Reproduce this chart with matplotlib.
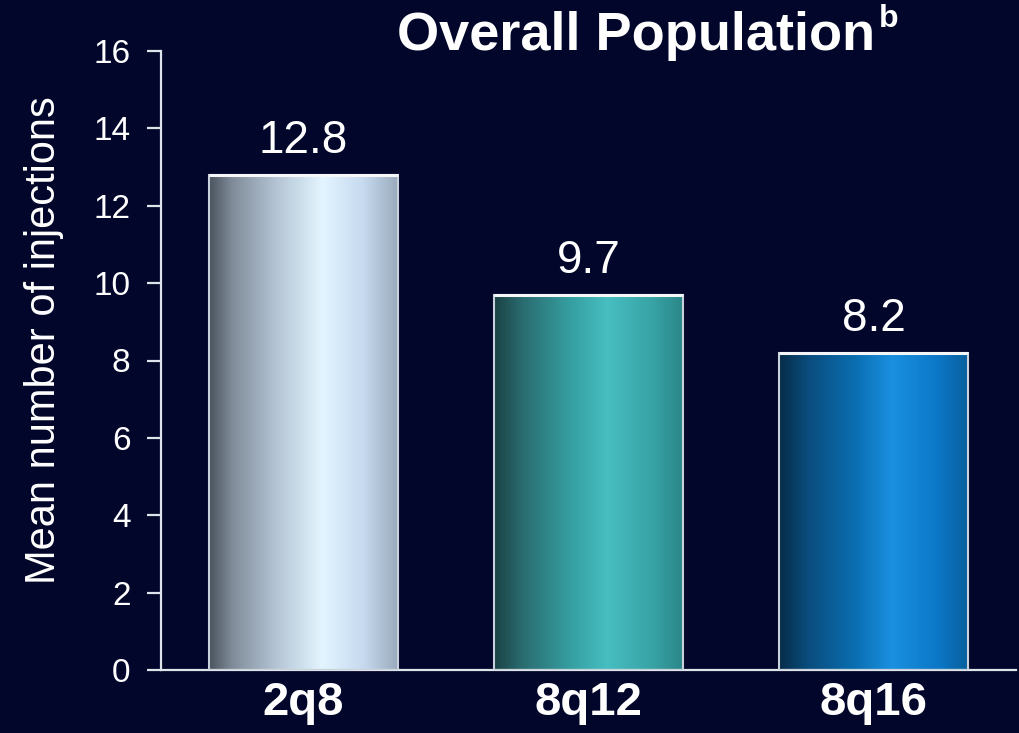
import numpy as np
import matplotlib
matplotlib.use("Agg")
import matplotlib.pyplot as plt
from matplotlib.colors import LinearSegmentedColormap

# Data
categories = ["2q8", "8q12", "8q16"]
mean_injections = [12.8, 9.7, 8.2]
value_labels = ["12.8", "9.7", "8.2"]
y_ticks = [0, 2, 4, 6, 8, 10, 12, 14, 16]

# Horizontal gradient stops for each bar (position, colour)
bar_gradients = [
    [(0.0, "#4a545f"), (0.12, "#7f8b98"), (0.35, "#b3c3d3"), (0.6, "#e3f5ff"),
     (0.82, "#c6d9ee"), (1.0, "#9aabbd")],
    [(0.0, "#1a4244"), (0.15, "#2a6c70"), (0.4, "#359ea0"), (0.6, "#47bec1"),
     (0.85, "#37a2a4"), (1.0, "#2a8688")],
    [(0.0, "#062c48"), (0.15, "#0a4c7c"), (0.4, "#0a6eb0"), (0.6, "#1a90e0"),
     (0.85, "#0c76c6"), (1.0, "#08609e")],
]

BG = "#01062a"
FG = "#ffffff"
LINE = "#dfe3ea"

plt.rcParams["font.family"] = ["Liberation Sans", "DejaVu Sans"]

fig = plt.figure(figsize=(10.2, 7.33), dpi=100, facecolor=BG)
ax = fig.add_axes([161 / 1020, 1 - 670 / 733, 855 / 1020, 619 / 733])
ax.set_facecolor(BG)

x = np.arange(len(categories))
bars = ax.bar(x, mean_injections, width=0.66, facecolor="none",
              edgecolor="#c9d2dc", linewidth=1.5, zorder=3)

grad = np.linspace(0, 1, 256).reshape(1, -1)
for bar, stops in zip(bars, bar_gradients):
    cmap = LinearSegmentedColormap.from_list("bar", stops)
    x0, y0 = bar.get_x(), bar.get_y()
    w, h = bar.get_width(), bar.get_height()
    im = ax.imshow(grad, cmap=cmap, aspect="auto", extent=(x0, x0 + w, y0, y0 + h),
                   zorder=2, interpolation="bilinear")
    im.set_clip_path(bar)
    # bright top edge
    ax.plot([x0, x0 + w], [y0 + h, y0 + h], color="#f4f6fa", lw=2.2, zorder=4,
            solid_capstyle="butt")

for bar, lab in zip(bars, value_labels):
    ax.annotate(lab, xy=(bar.get_x() + bar.get_width() / 2, bar.get_height()),
                xytext=(0, 16), textcoords="offset points", ha="center", va="baseline",
                fontsize=33, color=FG)

ax.set_xlim(-0.5, 2.5)
ax.set_ylim(0, 16)
ax.set_yticks(y_ticks)
ax.set_xticks(x)
ax.set_xticklabels(categories, fontsize=34, fontweight="bold", color=FG)
ax.tick_params(axis="x", length=0, pad=8)
ax.tick_params(axis="y", direction="out", length=10, width=1.6, color=LINE,
               labelsize=24, labelcolor=FG, pad=12)
for s in ["top", "right"]:
    ax.spines[s].set_visible(False)
for s in ["left", "bottom"]:
    ax.spines[s].set_color(LINE)
    ax.spines[s].set_linewidth(1.6)

ax.set_ylabel("Mean number of injections", fontsize=30, color=FG)
ax.yaxis.set_label_coords(-0.114, 0.533)

title = fig.text(397 / 1020, 1 - 50 / 733, "Overall Population", fontsize=39,
                 fontweight="bold", color=FG, ha="left", va="baseline")
fig.canvas.draw()
ax.annotate("b", xy=(1, 1), xycoords=title, xytext=(3, 5), textcoords="offset points",
            ha="left", va="top", fontsize=23, fontweight="bold", color=FG)

fig.savefig("out.png", dpi=100, facecolor=BG)
